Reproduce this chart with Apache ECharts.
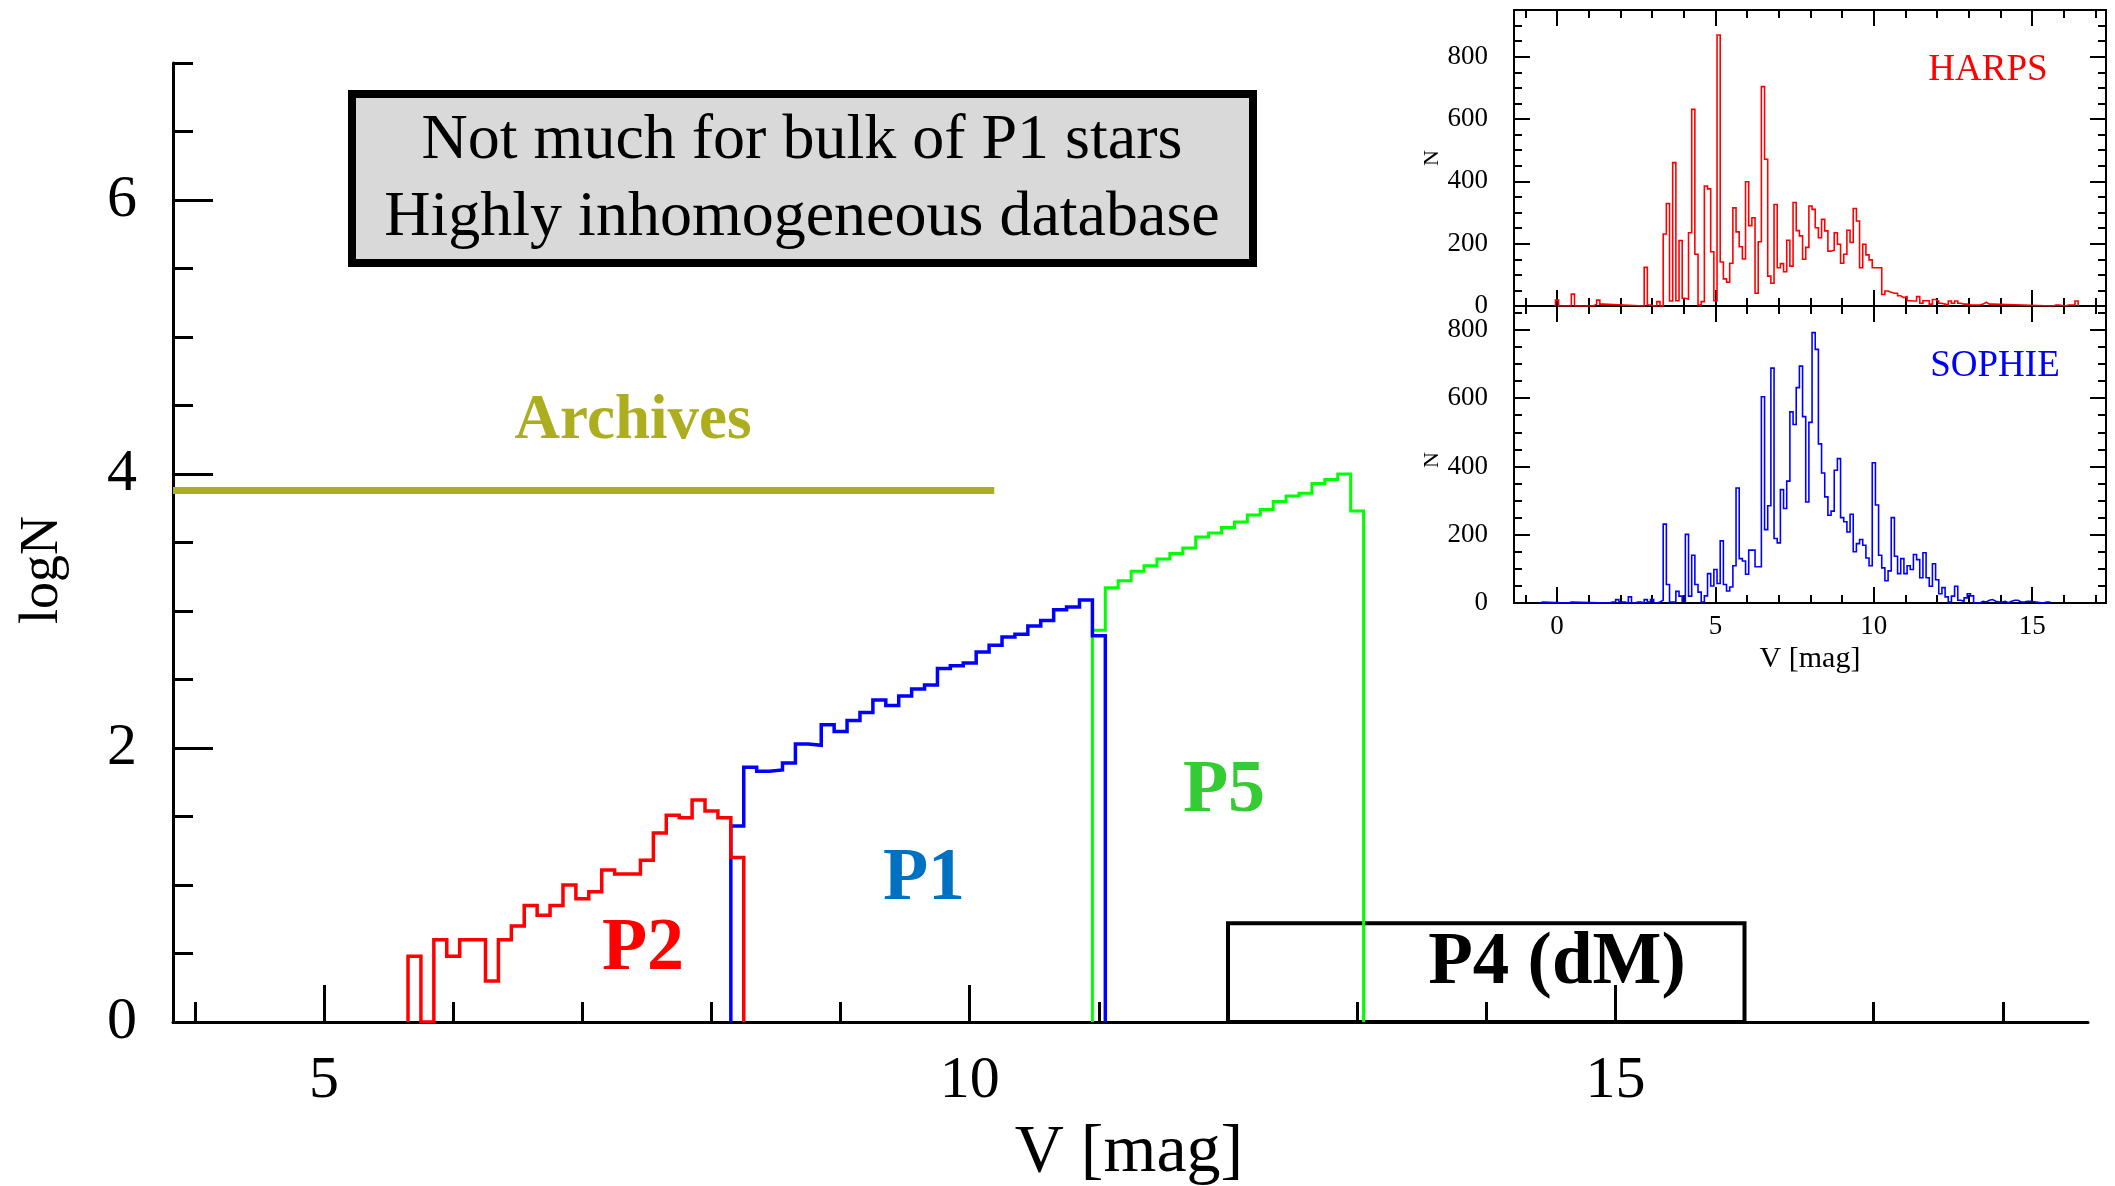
<!DOCTYPE html>
<html><head><meta charset="utf-8">
<script src="https://cdn.jsdelivr.net/npm/echarts@6/dist/echarts.min.js"></script>
<style>html,body{margin:0;padding:0;background:#fff}#c{width:2115px;height:1186px}</style>
</head><body><div id="c"></div>
<script>
// ---------------- DATA ----------------
// Main panel: log N per 0.1-mag bin (bin centres)
const p2V = [5.7,5.8,5.9,6.0,6.1,6.2,6.3,6.4,6.5,6.6,6.7,6.8,6.9,7.0,7.1,7.2,7.3,7.4,7.5,7.6,7.7,7.8,7.9,8.0,8.1,8.2];
const p2LogN = [0.48,0,0.60,0.48,0.60,0.60,0.30,0.60,0.70,0.85,0.78,0.85,1.00,0.90,0.95,1.11,1.08,1.08,1.18,1.38,1.51,1.49,1.62,1.54,1.49,1.20];
const p1V = [8.2,8.3,8.4,8.5,8.6,8.7,8.8,8.9,9.0,9.1,9.2,9.3,9.4,9.5,9.6,9.7,9.8,9.9,10.0,10.1,10.2,10.3,10.4,10.5,10.6,10.7,10.8,10.9,11.0];
const p1LogN = [1.43,1.86,1.83,1.84,1.89,2.03,2.02,2.17,2.12,2.20,2.26,2.35,2.31,2.38,2.43,2.46,2.58,2.60,2.62,2.70,2.75,2.81,2.83,2.89,2.93,3.01,3.03,3.08,2.82];
const p5V = [11.0,11.1,11.2,11.3,11.4,11.5,11.6,11.7,11.8,11.9,12.0,12.1,12.2,12.3,12.4,12.5,12.6,12.7,12.8,12.9,13.0];
const p5LogN = [2.86,3.17,3.22,3.29,3.33,3.38,3.42,3.46,3.54,3.57,3.61,3.65,3.70,3.74,3.80,3.84,3.86,3.93,3.96,4.00,3.73];
const archivesV = [3.83, 10.19];
const archivesLogN = [3.88, 3.88];
const p4BoxV = [12.0, 16.0];
const p4BoxLogN = [0, 0.72];
const mainXLabels = [5, 10, 15];
const mainYLabels = [0, 2, 4, 6];

// Insets: N per 0.1-mag bin
const harpsV = [0.0,0.5,1.2,1.3,1.4,
 2.8,2.9,3.0,3.1,3.2,3.3,3.4,3.5,3.6,3.7,
 3.8,3.9,4.0,4.1,4.2,4.3,4.4,4.5,4.6,4.7,
 4.8,4.9,5.0,5.1,5.2,5.3,5.4,5.5,5.6,5.7,
 5.8,5.9,6.0,6.1,6.2,6.3,6.4,6.5,6.6,6.7,
 6.8,6.9,7.0,7.1,7.2,7.3,7.4,7.5,7.6,7.7,
 7.8,7.9,8.0,8.1,8.2,8.3,8.4,8.5,8.6,8.7,
 8.8,8.9,9.0,9.1,9.2,9.3,9.4,9.5,9.6,9.7,
 9.8,9.9,10.0,10.1,10.2,10.3,10.4,10.5,10.6,10.7,
 10.8,10.9,11.0,11.1,11.2,11.3,11.4,11.5,11.6,11.7,
 11.8,11.9,12.0,12.1,12.2,12.3,12.4,12.5,12.6,12.7,
 12.8,12.9,13.0,13.1,13.2,13.3,13.4,13.5,13.6,13.7,
 15.7,15.8,16.1,16.2,16.3,16.4];
const harpsN = [19,38,6,19,6,
 124,3,0,0,14,0,231,329,16,460,
 17,210,25,22,235,631,166,3,14,385,
 376,174,17,870,141,87,76,137,315,238,
 190,151,399,258,283,41,206,704,471,96,
 73,326,123,136,110,211,128,332,242,225,
 150,188,321,310,251,219,278,241,176,179,
 235,198,137,166,243,204,313,273,123,198,
 164,148,123,123,123,37,48,44,41,41,
 33,27,30,17,16,16,30,9,17,17,
 6,21,16,9,6,3,16,9,16,9,
 6,6,3,3,3,3,6,12,6,6,
 3,3,3,3,3,16];
const sophieV = [-0.5,0.4,1.7,1.8,1.9,2.0,2.1,2.3,2.5,2.6,
 2.8,2.9,3.0,3.1,3.2,3.3,3.4,3.5,3.6,3.7,
 3.8,3.9,4.0,4.1,4.2,4.3,4.4,4.5,4.6,4.7,
 4.8,4.9,5.0,5.1,5.2,5.3,5.4,5.5,5.6,5.7,
 5.8,5.9,6.0,6.1,6.2,6.3,6.4,6.5,6.6,6.7,
 6.8,6.9,7.0,7.1,7.2,7.3,7.4,7.5,7.6,7.7,
 7.8,7.9,8.0,8.1,8.2,8.3,8.4,8.5,8.6,8.7,
 8.8,8.9,9.0,9.1,9.2,9.3,9.4,9.5,9.6,9.7,
 9.8,9.9,10.0,10.1,10.2,10.3,10.4,10.5,10.6,10.7,
 10.8,10.9,11.0,11.1,11.2,11.3,11.4,11.5,11.6,11.7,
 11.8,11.9,12.0,12.1,12.2,12.3,12.4,12.5,12.6,12.7,
 12.8,12.9,13.0,13.1,13.2,13.3,13.4,13.5,13.6,13.7,
 13.8,13.9,14.0,14.1,14.2,14.3,14.4,14.5,14.6,14.7,
 14.8,14.9,15.4,15.5];
const sophieN = [3,3,3,3,10,3,3,18,3,3,
 10,3,10,0,3,8,231,54,3,3,
 34,20,5,201,20,140,54,32,3,21,
 86,50,98,57,182,54,35,47,109,337,
 130,123,84,155,155,106,106,604,215,285,
 688,189,176,332,277,357,560,523,631,694,
 546,296,529,792,743,466,381,311,257,269,
 389,423,250,238,208,260,150,174,186,169,
 132,109,411,287,140,103,65,94,250,137,
 86,130,86,109,98,142,127,74,147,74,
 49,115,68,27,45,18,3,20,49,8,
 5,15,27,21,0,0,5,3,8,10,
 5,3,3,5,1,5,8,8,3,3,
 5,5,3,3];
const insetXLabels = [0, 5, 10, 15];
const insetYLabels = [0, 200, 400, 600, 800];

// ---------------- HELPERS ----------------
const BIN = 0.1;
function outline(cs, vs) {
  const pts = [];
  let prevR = null;
  for (let i = 0; i < cs.length; i++) {
    const l = +(cs[i] - BIN / 2).toFixed(3), r = +(cs[i] + BIN / 2).toFixed(3);
    if (prevR === null || l - prevR > 1e-6) {
      if (prevR !== null) pts.push([prevR, 0]);
      pts.push([l, 0]);
    }
    pts.push([l, vs[i]]);
    pts.push([r, vs[i]]);
    prevR = r;
  }
  pts.push([prevR, 0]);
  return pts;
}
function range(a, b, s) { const o = []; for (let v = a; v <= b + 1e-9; v += s) o.push(+v.toFixed(3)); return o; }
function minus(arr, major) { return arr.filter(v => !major.some(m => Math.abs(m - v) < 1e-6)); }

const FONT = 'Liberation Serif';
const mainXMinor = minus(range(4, 18, 1), mainXLabels);
const mainYMinor = minus(range(0.5, 7, 0.5), mainYLabels);
const insetXMinor = minus(range(-1, 17, 1), insetXLabels);
const harpsYMinor = minus(range(50, 900, 50), insetYLabels);
const sophieYMinor = minus(range(50, 850, 50), insetYLabels);

function ax(o) {
  return Object.assign({
    type: 'value', splitLine: { show: false },
    axisLine: { show: false, onZero: false },
    axisLabel: { show: false },
    axisTick: { show: false }
  }, o);
}
function ticks(vals, len, w) {
  return { show: true, inside: true, length: len, customValues: vals, lineStyle: { color: '#000', width: w } };
}

const X0 = 3.83, X1 = 18.66;
const IX0 = -1.36, IX1 = 17.33;
const IZ = 20;

const xAxes = [
  // main
  ax({ gridIndex: 0, min: X0, max: X1, position: 'bottom',
       axisLine: { show: true, onZero: false, lineStyle: { color: '#000', width: 3 } },
       axisTick: ticks(mainXLabels, 37, 3),
       axisLabel: { show: true, customValues: mainXLabels, fontSize: 60, fontFamily: FONT, color: '#000', margin: 29 } }),
  ax({ gridIndex: 0, min: X0, max: X1, position: 'bottom', axisTick: ticks(mainXMinor, 20, 3) }),
  // harps
  ax({ gridIndex: 1, z: IZ, min: IX0, max: IX1, position: 'bottom', axisTick: ticks(insetXLabels, 16, 2) }),
  ax({ gridIndex: 1, z: IZ, min: IX0, max: IX1, position: 'bottom', axisTick: ticks(insetXMinor, 8, 2) }),
  ax({ gridIndex: 1, z: IZ, min: IX0, max: IX1, position: 'top', axisTick: ticks(insetXLabels, 16, 2) }),
  ax({ gridIndex: 1, z: IZ, min: IX0, max: IX1, position: 'top', axisTick: ticks(insetXMinor, 8, 2) }),
  // sophie
  ax({ gridIndex: 2, z: IZ, min: IX0, max: IX1, position: 'bottom', axisTick: ticks(insetXLabels, 16, 2),
       axisLabel: { show: true, customValues: insetXLabels, fontSize: 27, fontFamily: FONT, color: '#000', margin: 10 } }),
  ax({ gridIndex: 2, z: IZ, min: IX0, max: IX1, position: 'bottom', axisTick: ticks(insetXMinor, 8, 2) }),
  ax({ gridIndex: 2, z: IZ, min: IX0, max: IX1, position: 'top', axisTick: ticks(insetXLabels, 16, 2) }),
  ax({ gridIndex: 2, z: IZ, min: IX0, max: IX1, position: 'top', axisTick: ticks(insetXMinor, 8, 2) })
];
const yAxes = [
  ax({ gridIndex: 0, min: 0, max: 7, position: 'left',
       axisLine: { show: true, onZero: false, lineStyle: { color: '#000', width: 3 } },
       axisTick: ticks(mainYLabels, 40, 3),
       axisLabel: { show: true, customValues: mainYLabels, fontSize: 60, fontFamily: FONT, color: '#000', margin: 36 } }),
  ax({ gridIndex: 0, min: 0, max: 7, position: 'left', axisTick: ticks(mainYMinor, 20, 3) }),
  ax({ gridIndex: 1, z: IZ, min: 0, max: 950, position: 'left', axisTick: ticks(insetYLabels, 16, 2),
       axisLabel: { show: true, customValues: insetYLabels, fontSize: 27, fontFamily: FONT, color: '#000', margin: 26 } }),
  ax({ gridIndex: 1, z: IZ, min: 0, max: 950, position: 'left', axisTick: ticks(harpsYMinor, 8, 2) }),
  ax({ gridIndex: 1, z: IZ, min: 0, max: 950, position: 'right', axisTick: ticks(insetYLabels, 16, 2) }),
  ax({ gridIndex: 1, z: IZ, min: 0, max: 950, position: 'right', axisTick: ticks(harpsYMinor, 8, 2) }),
  ax({ gridIndex: 2, z: IZ, min: 0, max: 870, position: 'left', axisTick: ticks(insetYLabels, 16, 2),
       axisLabel: { show: true, customValues: insetYLabels, fontSize: 27, fontFamily: FONT, color: '#000', margin: 26 } }),
  ax({ gridIndex: 2, z: IZ, min: 0, max: 870, position: 'left', axisTick: ticks(sophieYMinor, 8, 2) }),
  ax({ gridIndex: 2, z: IZ, min: 0, max: 870, position: 'right', axisTick: ticks(insetYLabels, 16, 2) }),
  ax({ gridIndex: 2, z: IZ, min: 0, max: 870, position: 'right', axisTick: ticks(sophieYMinor, 8, 2) })
];

function stepSeries(name, pts, color, width, xi, yi, z, extra) {
  return Object.assign({
    name, type: 'line', data: pts, xAxisIndex: xi, yAxisIndex: yi,
    showSymbol: false, symbol: 'none', silent: true, animation: false, z: z,
    lineStyle: { color, width, join: 'miter', cap: 'butt' }
  }, extra || {});
}

const series = [
  stepSeries('P5', outline(p5V, p5LogN), '#00FF00', 3, 0, 0, 3, {
    markArea: { silent: true,
      itemStyle: { color: 'rgba(0,0,0,0)', borderColor: '#000', borderWidth: 4 },
      data: [[{ coord: [p4BoxV[0], p4BoxLogN[0]] }, { coord: [p4BoxV[1], p4BoxLogN[1]] }]] }
  }),
  stepSeries('P1', outline(p1V, p1LogN), '#0000FF', 3.5, 0, 0, 4),
  stepSeries('P2', outline(p2V, p2LogN), '#FF0000', 3.5, 0, 0, 5),
  stepSeries('Archives', archivesV.map((v, i) => [v, archivesLogN[i]]), '#ADAD20', 7, 0, 0, 2),
  stepSeries('HARPS', outline(harpsV, harpsN), '#FF0000', 1.6, 2, 2, IZ + 1),
  stepSeries('SOPHIE', outline(sophieV, sophieN), '#0000FF', 1.6, 6, 6, IZ + 1)
];

function txt(x, y, s, size, color, opts) {
  return Object.assign({
    type: 'text', x, y, z: 100, silent: true,
    style: Object.assign({ text: s, fontSize: size, fontFamily: FONT, fill: color, align: 'center', verticalAlign: 'middle' }, (opts && opts.style) || {})
  }, opts && opts.rotation !== undefined ? { rotation: opts.rotation } : {});
}

const graphics = [
  { type: 'rect', z: 90, silent: true, shape: { x: 352, y: 94, width: 901, height: 169 },
    style: { fill: '#D9D9D9', stroke: '#000', lineWidth: 8 } },
  txt(802, 141, 'Not much for bulk of P1 stars', 64, '#000'),
  txt(802, 218, 'Highly inhomogeneous database', 64, '#000'),
  txt(633, 422, 'Archives', 63, '#ADAD20', { style: { fontWeight: 'bold' } }),
  txt(643, 950, 'P2', 74, '#FF0000', { style: { fontWeight: 'bold' } }),
  txt(924, 880, 'P1', 74, '#0070C0', { style: { fontWeight: 'bold' } }),
  txt(1224, 792, 'P5', 74, '#33CC33', { style: { fontWeight: 'bold' } }),
  txt(1557, 964, 'P4 (dM)', 73, '#000', { style: { fontWeight: 'bold' } }),
  txt(1129, 1153, 'V [mag]', 68, '#000'),
  txt(43, 570, 'logN', 54, '#000', { rotation: Math.PI / 2 }),
  txt(1988, 70, 'HARPS', 37, '#FF0000'),
  txt(1995, 366, 'SOPHIE', 37, '#0000FF'),
  txt(1432, 158, 'N', 22, '#000', { rotation: Math.PI / 2 }),
  txt(1432, 460, 'N', 22, '#000', { rotation: Math.PI / 2 }),
  txt(1810, 659, 'V [mag]', 30, '#000')
];

const chart = echarts.init(document.getElementById('c'), null, { renderer: 'canvas', width: 2115, height: 1186 });
chart.setOption({
  animation: false,
  backgroundColor: '#fff',
  grid: [
    { left: 173, top: 63, width: 1915, height: 959, show: false, outerBoundsMode: 'none' },
    { left: 1514, top: 10, width: 592, height: 296, show: true, borderColor: '#000', borderWidth: 2, backgroundColor: '#fff', z: 1, outerBoundsMode: 'none' },
    { left: 1514, top: 306, width: 592, height: 297, show: true, borderColor: '#000', borderWidth: 2, backgroundColor: '#fff', z: 1, outerBoundsMode: 'none' }
  ],
  xAxis: xAxes,
  yAxis: yAxes,
  series: series,
  graphic: graphics
});
</script>
</body></html>
